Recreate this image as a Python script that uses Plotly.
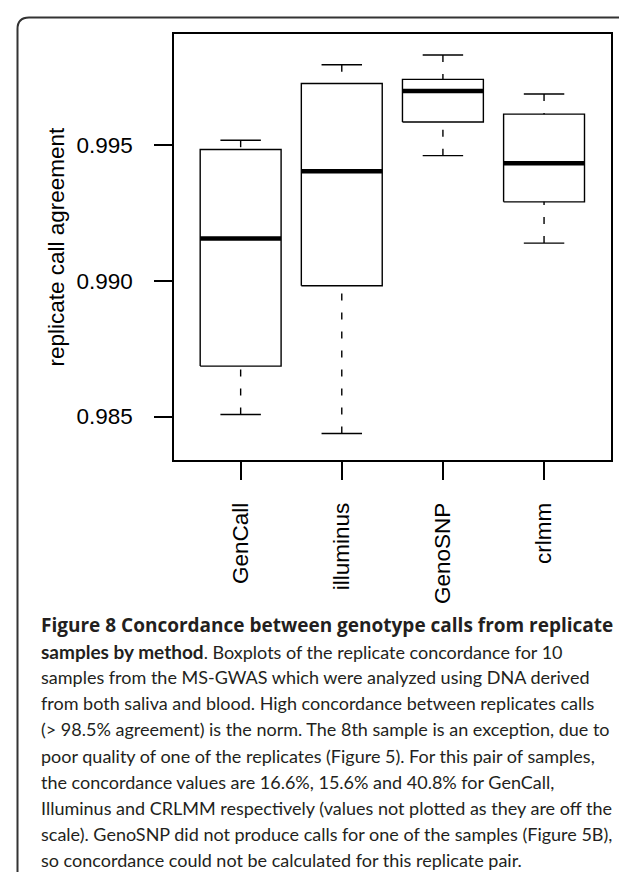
import plotly.graph_objects as go

# ---- data ----
methods = ["GenCall", "illuminus", "GenoSNP", "crlmm"]
lower_whisker = [0.98508, 0.98438, 0.99461, 0.99139]
q1 = [0.98686, 0.98982, 0.99585, 0.99291]
median = [0.99156, 0.99404, 0.99699, 0.99433]
q3 = [0.99484, 0.99727, 0.99742, 0.99614]
upper_whisker = [0.99518, 0.99796, 0.99832, 0.99688]

y_tick_vals = [0.985, 0.990, 0.995]
y_tick_text = ["0.985", "0.990", "0.995"]
y_title = "replicate call agreement"

caption_lines = [
    "Figure 8 Concordance between genotype calls from replicate",
    '<b><span style="font-size:19px">samples by method</span></b>. Boxplots of the replicate concordance for 10',
    "samples from the MS-GWAS which were analyzed using DNA derived",
    "from both saliva and blood. High concordance between replicates calls",
    "(&gt; 98.5% agreement) is the norm. The 8th sample is an exception, due to",
    "poor quality of one of the replicates (Figure 5). For this pair of samples,",
    "the concordance values are 16.6%, 15.6% and 40.8% for GenCall,",
    "Illuminus and CRLMM respectively (values not plotted as they are off the",
    "scale). GenoSNP did not produce calls for one of the samples (Figure 5B),",
    "so concordance could not be calculated for this replicate pair.",
]

# ---- layout geometry ----
W, H = 627, 872
ML, MR, MT, MB = 166, 24, 26, 420
PW, PH = W - ML - MR, H - MT - MB


def px(xp):
    return (xp - ML) / PW


def py(yp):
    return (H - MB - yp) / PH


HALF = 0.4     # half box width (axis units)
CAP = 0.2      # half cap width
AXFONT = dict(family="Liberation Sans, Arial, sans-serif", size=22.5, color="black")

fig = go.Figure()

pos = list(range(1, len(methods) + 1))

# boxes
bx, by = [], []
for c, a, b in zip(pos, q1, q3):
    bx += [c - HALF, c + HALF, c + HALF, c - HALF, c - HALF, None]
    by += [a, a, b, b, a, None]
fig.add_trace(go.Scatter(x=bx, y=by, mode="lines",
                         line=dict(color="black", width=1.4), hoverinfo="skip"))

# medians
mx, my = [], []
for c, m in zip(pos, median):
    mx += [c - HALF, c + HALF, None]
    my += [m, m, None]
fig.add_trace(go.Scatter(x=mx, y=my, mode="lines",
                         line=dict(color="black", width=4.5), hoverinfo="skip"))

# whiskers (dashed), drawn from the cap toward the box
for c, lo, a, b, hi in zip(pos, lower_whisker, q1, q3, upper_whisker):
    for end, edge in ((hi, b), (lo, a)):
        fig.add_trace(go.Scatter(x=[c, c], y=[end, edge], mode="lines",
                                 line=dict(color="black", width=1.4, dash="7px,12px"),
                                 hoverinfo="skip"))

# caps
cx, cy = [], []
for c, lo, hi in zip(pos, lower_whisker, upper_whisker):
    cx += [c - CAP, c + CAP, None, c - CAP, c + CAP, None]
    cy += [hi, hi, None, lo, lo, None]
fig.add_trace(go.Scatter(x=cx, y=cy, mode="lines",
                         line=dict(color="black", width=1.4), hoverinfo="skip"))

axis_common = dict(
    showgrid=False, zeroline=False, showline=True, linecolor="black",
    linewidth=1.5, mirror=True, ticks="outside", ticklen=18, tickwidth=1.5,
    tickcolor="black", tickfont=AXFONT,
)

fig.update_xaxes(range=[0.341, 4.662], tickvals=pos, ticktext=methods,
                 tickangle=-90, ticklabelstandoff=14, **axis_common)
fig.update_yaxes(range=[0.983402, 0.999091], tickvals=y_tick_vals,
                 ticktext=y_tick_text, ticklabelstandoff=17, **axis_common)

annotations = [dict(
    text=y_title, x=px(47.5), y=0.5, xref="paper", yref="paper",
    xanchor="center", yanchor="middle", textangle=-90, showarrow=False,
    font=AXFONT,
)]

BODYFONT = dict(family="Lato, sans-serif", size=18, color="#231f20")
HEADFONT = dict(family="Open Sans, sans-serif", size=19, color="#231f20", weight="bold")
first_baseline = 623.5
spacing = 26.1
for i, line in enumerate(caption_lines):
    base = first_baseline + i * spacing
    f = HEADFONT if i == 0 else BODYFONT
    annotations.append(dict(
        text=line, x=px(31), y=py(base - 0.36 * f["size"]),
        xref="paper", yref="paper", xanchor="left", yanchor="middle",
        showarrow=False, font=f, align="left",
    ))

frame_path = (
    f"M {px(9.5)},{py(900)} L {px(9.5)},{py(21)} "
    f"Q {px(9.5)},{py(9.5)} {px(21)},{py(9.5)} L {px(660)},{py(9.5)}"
)

fig.update_layout(
    width=W, height=H,
    margin=dict(l=ML, r=MR, t=MT, b=MB, pad=0),
    paper_bgcolor="white", plot_bgcolor="white",
    showlegend=False, hovermode=False,
    annotations=annotations,
    shapes=[dict(type="path", path=frame_path, xref="paper", yref="paper",
                 line=dict(color="#333333", width=2))],
)

fig.write_html("out.html")
